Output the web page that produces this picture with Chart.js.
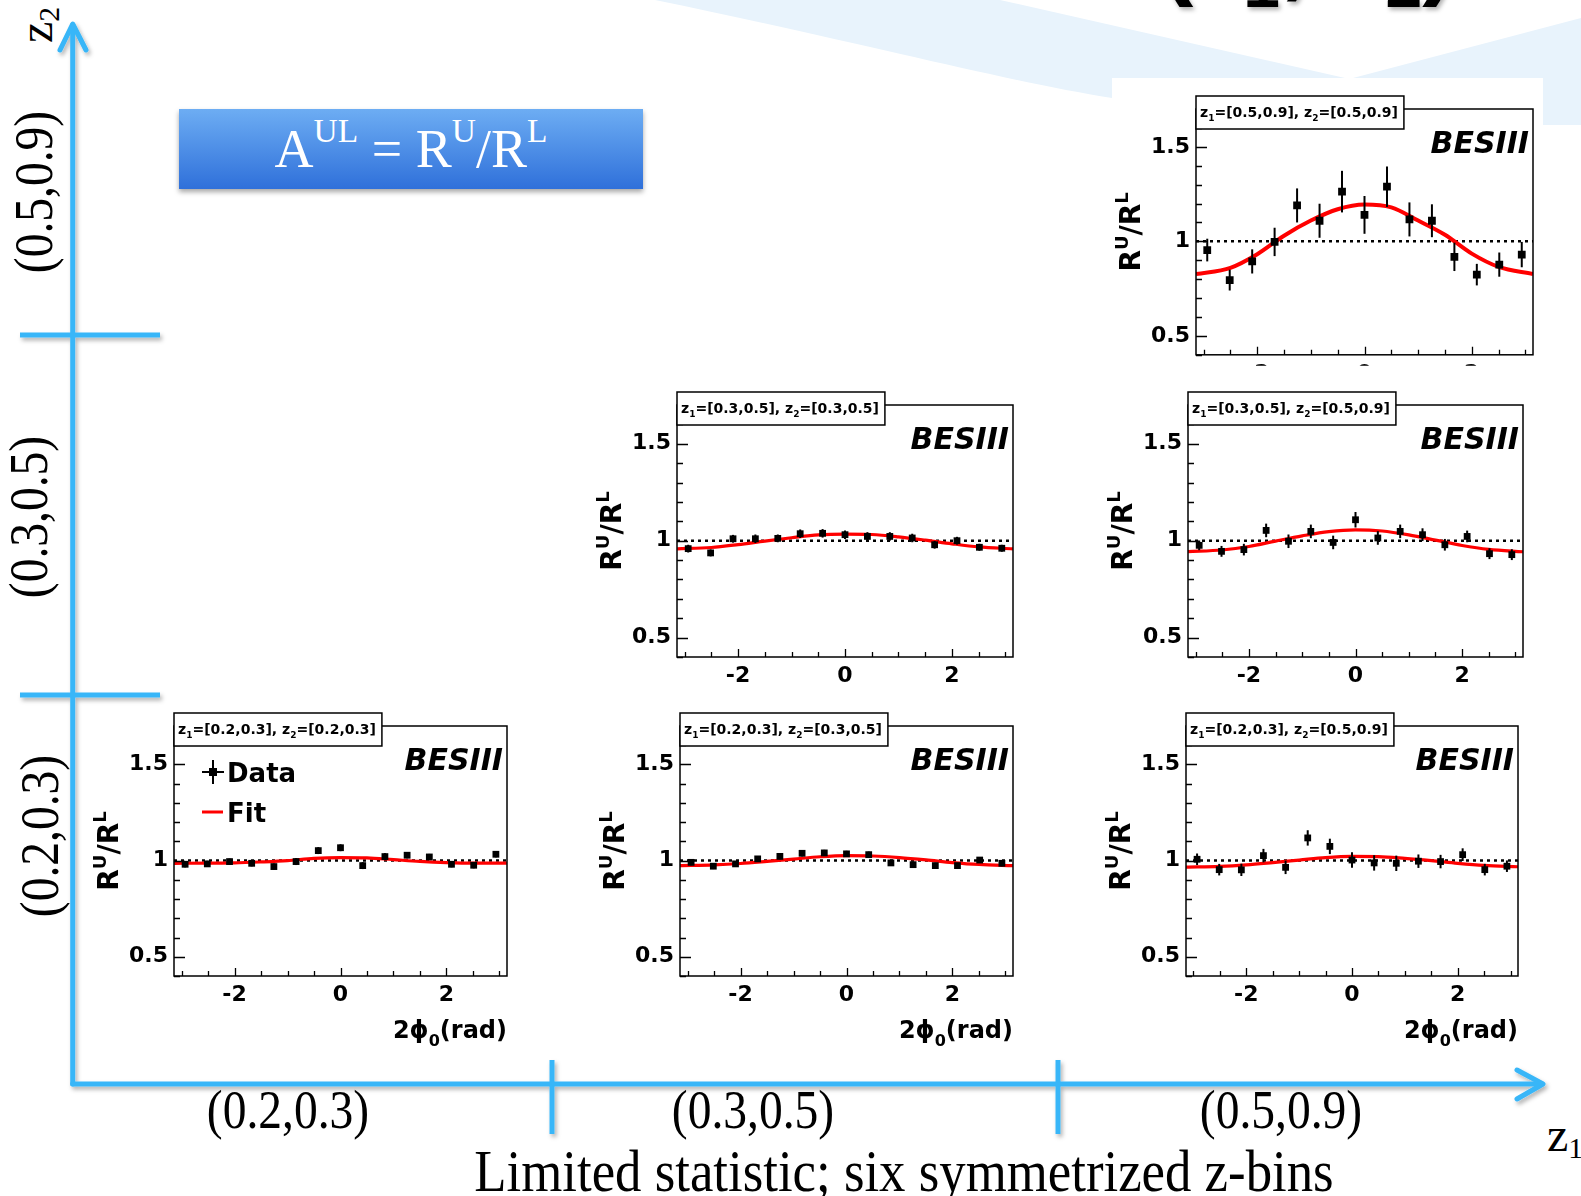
<!DOCTYPE html>
<html>
<head>
<meta charset="utf-8">
<script src="https://cdn.jsdelivr.net/npm/chart.js@4.4.0/dist/chart.umd.min.js"></script>
<style>
html, body { margin: 0; padding: 0; background: #fff; }
body { width: 1581px; height: 1196px; position: relative; overflow: hidden; font-family: "Liberation Serif", "Times New Roman", serif; }
canvas { position: absolute; }
.lbl { position: absolute; font-size: 54px; line-height: 1; white-space: nowrap; color: #000; }
.h { transform: translate(-50%, -50%) scale(0.88, 1); }
.v { transform: translate(-50%, -50%) rotate(-90deg) scale(0.88, 1); }
.sub { font-size: 0.62em; position: relative; top: 0.25em; }
.sup { font-size: 0.62em; position: relative; top: -0.55em; }
#aul { position: absolute; left: 179px; top: 109px; width: 464px; height: 80px;
  background: linear-gradient(#6dadf3, #2f70da); box-shadow: 0 3px 5px rgba(0,0,0,0.35);
  display: flex; align-items: center; justify-content: center; color: #fff; font-size: 54px; }
</style>
</head>
<body>
<svg width="1581" height="1196" style="position:absolute;left:0;top:0">
  <defs>
    <filter id="sh" x="-5%" y="-5%" width="110%" height="110%">
      <feDropShadow dx="2" dy="3" stdDeviation="2" flood-color="#000" flood-opacity="0.3"/>
    </filter>
  </defs>
  <path d="M655,0 L1000,0 L1345,78 L1112,78 L1112,98 C1000,80 850,40 655,0 Z" fill="#e8f3fc"/>
  <polygon points="1353,78 1581,18 1581,125 1543,125 1543,78" fill="#e8f3fc"/>
  <rect x="1112" y="78" width="431" height="295" fill="#fff"/>
  <text x="1160" y="-14" font-family="Liberation Sans" font-weight="bold" font-size="100" filter="url(#sh)">(z<tspan font-size="66" dy="21">1</tspan><tspan dy="-21">, z</tspan><tspan font-size="66" dy="21">2</tspan><tspan dy="-21">)</tspan></text>
  <g stroke="#38b6f8" stroke-width="5" fill="none" stroke-linecap="round" stroke-linejoin="round" filter="url(#sh)">
    <line x1="72.7" y1="1084" x2="72.7" y2="25"/>
    <polyline points="60,50 72.7,24 86,50"/>
    <line x1="72.7" y1="1084" x2="1541" y2="1084"/>
    <polyline points="1517,1070 1543,1084 1517,1099"/>
    <line x1="20" y1="335" x2="160" y2="335" stroke-linecap="butt"/>
    <line x1="20" y1="695" x2="160" y2="695" stroke-linecap="butt"/>
    <line x1="552" y1="1060" x2="552" y2="1134" stroke-linecap="butt"/>
    <line x1="1058" y1="1060" x2="1058" y2="1134" stroke-linecap="butt"/>
  </g>
</svg>

<div id="aul">A<span class="sup">UL</span>&nbsp;=&nbsp;R<span class="sup">U</span>/R<span class="sup">L</span></div>

<div class="lbl v" style="left:36px;top:25px;font-size:48px;transform:translate(-50%,-50%) rotate(-90deg)">z<span class="sub">2</span></div>
<div class="lbl v" style="left:34px;top:192px">(0.5,0.9)</div>
<div class="lbl v" style="left:29px;top:517px">(0.3,0.5)</div>
<div class="lbl v" style="left:40px;top:836px">(0.2,0.3)</div>
<div class="lbl h" style="left:288px;top:1110px">(0.2,0.3)</div>
<div class="lbl h" style="left:753px;top:1110px">(0.3,0.5)</div>
<div class="lbl h" style="left:1281px;top:1110px">(0.5,0.9)</div>
<div class="lbl h" style="left:904px;top:1171px;font-size:60px">Limited statistic; six symmetrized z-bins</div>
<div class="lbl" style="left:1547px;top:1111px;font-size:48px">z<span class="sub">1</span></div>

<canvas id="c55"></canvas>
<canvas id="c33"></canvas>
<canvas id="c35"></canvas>
<canvas id="c22"></canvas>
<canvas id="c23"></canvas>
<canvas id="c25"></canvas>

<script>
// 15 bins in 2phi0 over [-pi, pi]
const binCenters = [-2.932, -2.513, -2.094, -1.676, -1.257, -0.838, -0.419, 0, 0.419, 0.838, 1.257, 1.676, 2.094, 2.513, 2.932];
const fitX = [-3.14, -2.5, -2, -1.5, -1, -0.5, 0, 0.5, 1, 1.5, 2, 2.5, 3.14];
const xTickLabels = [-2, 0, 2];
const yTickLabels = [0.5, 1, 1.5];
const xMinorStep = 0.5;
const yMinorStep = 0.1;
const yMin = 0.4, yMax = 1.7;
const refLevel = 1;

// z1=[0.5,0.9], z2=[0.5,0.9]
const ratio55 = [0.954, 0.795, 0.894, 0.997, 1.19, 1.109, 1.263, 1.14, 1.289, 1.116, 1.109, 0.918, 0.824, 0.877, 0.93];
const err55 = [0.06, 0.055, 0.064, 0.075, 0.09, 0.09, 0.11, 0.1, 0.107, 0.09, 0.087, 0.075, 0.057, 0.064, 0.067];
const fit55 = [0.827, 0.86, 0.932, 1.03, 1.11, 1.17, 1.195, 1.18, 1.11, 1.035, 0.935, 0.865, 0.827];

// z1=[0.3,0.5], z2=[0.3,0.5]
const ratio33 = [0.959, 0.937, 1.01, 1.01, 1.012, 1.036, 1.038, 1.031, 1.022, 1.022, 1.014, 0.979, 1.0, 0.966, 0.961];
const err33 = [0.02, 0.018, 0.02, 0.022, 0.02, 0.022, 0.022, 0.022, 0.022, 0.022, 0.022, 0.02, 0.02, 0.018, 0.018];
const fit33 = [0.958, 0.965, 0.98, 0.998, 1.015, 1.03, 1.034, 1.032, 1.02, 1.003, 0.984, 0.968, 0.958];

// z1=[0.3,0.5], z2=[0.5,0.9]
const ratio35 = [0.976, 0.945, 0.954, 1.053, 0.997, 1.048, 0.991, 1.108, 1.014, 1.048, 1.031, 0.979, 1.022, 0.933, 0.928];
const err35 = [0.025, 0.028, 0.03, 0.035, 0.035, 0.035, 0.035, 0.04, 0.035, 0.035, 0.033, 0.03, 0.03, 0.028, 0.028];
const fit35 = [0.944, 0.952, 0.97, 0.998, 1.025, 1.047, 1.056, 1.05, 1.03, 1.003, 0.975, 0.955, 0.943];

// z1=[0.2,0.3], z2=[0.2,0.3]
const ratio22 = [0.981, 0.983, 0.995, 0.986, 0.969, 0.995, 1.052, 1.067, 0.974, 1.021, 1.028, 1.019, 0.981, 0.976, 1.033];
const err22 = [0.016, 0.016, 0.016, 0.016, 0.016, 0.018, 0.018, 0.018, 0.018, 0.018, 0.016, 0.016, 0.016, 0.016, 0.016];
const fit22 = [0.986, 0.987, 0.988, 0.993, 1.0, 1.012, 1.016, 1.014, 1.005, 0.996, 0.99, 0.987, 0.987];

// z1=[0.2,0.3], z2=[0.3,0.5]
const ratio23 = [0.991, 0.971, 0.983, 1.009, 1.022, 1.038, 1.04, 1.035, 1.031, 0.988, 0.979, 0.974, 0.974, 1.003, 0.986];
const err23 = [0.015, 0.015, 0.015, 0.015, 0.015, 0.016, 0.016, 0.016, 0.016, 0.016, 0.015, 0.015, 0.015, 0.015, 0.015];
const fit23 = [0.974, 0.978, 0.985, 0.996, 1.008, 1.02, 1.026, 1.024, 1.016, 1.004, 0.99, 0.98, 0.974];

// z1=[0.2,0.3], z2=[0.5,0.9]
const ratio25 = [1.007, 0.953, 0.952, 1.026, 0.965, 1.118, 1.074, 1.003, 0.988, 0.986, 0.997, 0.995, 1.031, 0.953, 0.971];
const err25 = [0.03, 0.03, 0.032, 0.035, 0.035, 0.04, 0.04, 0.04, 0.04, 0.04, 0.035, 0.035, 0.033, 0.03, 0.03];
const fit25 = [0.966, 0.97, 0.978, 0.99, 1.003, 1.016, 1.022, 1.021, 1.012, 1.0, 0.986, 0.975, 0.968];

const FONT = '"DejaVu Sans", "Liberation Sans", sans-serif';
const LEFT_M = 100, TOP_M = 20, RIGHT_M = 12;

// frame = plot area in page pixels
const panels = [
    { id: 'c55', z1: '[0.5,0.9]', z2: '[0.5,0.9]', vals: ratio55, errs: err55, fit: fit55, frame: [1196, 109, 1533, 363], bottom: 11, big: true },
    { id: 'c33', z1: '[0.3,0.5]', z2: '[0.3,0.5]', vals: ratio33, errs: err33, fit: fit33, frame: [677, 405, 1013, 657], bottom: 40 },
    { id: 'c35', z1: '[0.3,0.5]', z2: '[0.5,0.9]', vals: ratio35, errs: err35, fit: fit35, frame: [1188, 405, 1523, 657], bottom: 40 },
    { id: 'c22', z1: '[0.2,0.3]', z2: '[0.2,0.3]', vals: ratio22, errs: err22, fit: fit22, frame: [174, 726, 507, 976], bottom: 80, xTitle: true, legend: true },
    { id: 'c23', z1: '[0.2,0.3]', z2: '[0.3,0.5]', vals: ratio23, errs: err23, fit: fit23, frame: [680, 726, 1013, 976], bottom: 80, xTitle: true },
    { id: 'c25', z1: '[0.2,0.3]', z2: '[0.5,0.9]', vals: ratio25, errs: err25, fit: fit25, frame: [1186, 726, 1518, 976], bottom: 80, xTitle: true }
];

// parts: [text, 0 normal | 1 subscript | -1 superscript]
function drawRich(ctx, parts, x, y, size, align, style) {
    style = style || 'bold';
    const sizes = parts.map(p => p[1] ? Math.round(size * 0.65) : size);
    let w = 0;
    parts.forEach((p, i) => { ctx.font = style + ' ' + sizes[i] + 'px ' + FONT; w += ctx.measureText(p[0]).width; });
    let cx = align === 'right' ? x - w : (align === 'center' ? x - w / 2 : x);
    ctx.textAlign = 'left';
    ctx.textBaseline = 'alphabetic';
    parts.forEach((p, i) => {
        ctx.font = style + ' ' + sizes[i] + 'px ' + FONT;
        const dy = p[1] === 1 ? size * 0.32 : (p[1] === -1 ? -size * 0.42 : 0);
        ctx.fillText(p[0], cx, y + dy);
        cx += ctx.measureText(p[0]).width;
    });
    return w;
}

const rootPlugin = {
    id: 'rootStyle',
    beforeDatasetsDraw(chart) {
        const { ctx, chartArea: a, scales } = chart;
        const y1 = scales.y.getPixelForValue(refLevel);
        ctx.save();
        ctx.strokeStyle = '#000';
        ctx.lineWidth = 2.5;
        ctx.setLineDash([3, 4]);
        ctx.beginPath();
        ctx.moveTo(a.left, y1);
        ctx.lineTo(a.right, y1);
        ctx.stroke();
        ctx.restore();
    },
    afterDatasetsDraw(chart) {
        const { ctx, chartArea: a, scales } = chart;
        const p = chart.options.plugins.rootStyle;
        const xs = scales.x, ys = scales.y;
        ctx.save();
        // error bars
        ctx.strokeStyle = '#000';
        ctx.lineWidth = 2;
        p.errs.forEach((e, i) => {
            const px = xs.getPixelForValue(binCenters[i]);
            ctx.beginPath();
            ctx.moveTo(px, ys.getPixelForValue(p.vals[i] - e));
            ctx.lineTo(px, ys.getPixelForValue(p.vals[i] + e));
            ctx.stroke();
        });
        // frame
        ctx.lineWidth = 1.5;
        ctx.strokeRect(a.left, a.top, a.right - a.left, a.bottom - a.top);
        // tick marks (inside the frame, left and bottom)
        ctx.lineWidth = 1.3;
        ctx.beginPath();
        for (let v = yMin; v <= yMax + 1e-9; v += yMinorStep) {
            const major = yTickLabels.some(t => Math.abs(t - v) < 1e-6);
            const py = Math.round(ys.getPixelForValue(v)) + 0.5;
            ctx.moveTo(a.left, py);
            ctx.lineTo(a.left + (major ? 11 : 6), py);
        }
        for (let v = -3; v <= 3 + 1e-9; v += xMinorStep) {
            const major = xTickLabels.some(t => Math.abs(t - v) < 1e-6);
            const px = Math.round(xs.getPixelForValue(v)) + 0.5;
            ctx.moveTo(px, a.bottom);
            ctx.lineTo(px, a.bottom - (major ? 8 : 5));
        }
        ctx.stroke();
        ctx.restore();

        ctx.save();
        ctx.fillStyle = '#000';
        // bin label box
        const parts = [['z', 0], ['1', 1], ['=' + p.z1 + ', z', 0], ['2', 1], ['=' + p.z2, 0]];
        let tw = 0;
        parts.forEach(q => { ctx.font = 'bold ' + (q[1] ? 9 : 14) + 'px ' + FONT; tw += ctx.measureText(q[0]).width; });
        const bx = a.left, by = a.top - 13, bw = tw + 10, bh = 33;
        ctx.fillStyle = '#fff';
        ctx.fillRect(bx, by, bw, bh);
        ctx.strokeStyle = '#000';
        ctx.lineWidth = 1.5;
        ctx.strokeRect(bx, by, bw, bh);
        ctx.fillStyle = '#000';
        drawRich(ctx, parts, bx + 4, by + 21, 14, 'left');
        // BESIII tag
        ctx.font = 'italic bold 30px ' + FONT;
        ctx.textAlign = 'right';
        ctx.textBaseline = 'alphabetic';
        ctx.fillText('BESIII', a.right - 4, a.top + 44);
        // y title
        ctx.save();
        ctx.translate(a.left - 56, (a.top + a.bottom) / 2);
        ctx.rotate(-Math.PI / 2);
        drawRich(ctx, [['R', 0], ['U', -1], ['/R', 0], ['L', -1]], 0, 0, 28, 'center');
        ctx.restore();
        // x title
        if (p.xTitle) {
            drawRich(ctx, [['2\u03D5', 0], ['0', 1], ['(rad)', 0]], a.right, a.bottom + 62, 24, 'right');
        }
        // legend
        if (p.legend) {
            const lx = a.left + 39, ly = a.top + 46;
            ctx.strokeStyle = '#000';
            ctx.lineWidth = 2;
            ctx.beginPath();
            ctx.moveTo(lx, ly - 12); ctx.lineTo(lx, ly + 12);
            ctx.moveTo(lx - 11, ly); ctx.lineTo(lx + 11, ly);
            ctx.stroke();
            ctx.fillRect(lx - 4, ly - 4, 8, 8);
            ctx.font = 'bold 26px ' + FONT;
            ctx.textAlign = 'left';
            ctx.fillText('Data', a.left + 53, a.top + 56);
            ctx.strokeStyle = '#ff0000';
            ctx.lineWidth = 3;
            ctx.beginPath();
            ctx.moveTo(a.left + 28, a.top + 86); ctx.lineTo(a.left + 49, a.top + 86);
            ctx.stroke();
            ctx.fillText('Fit', a.left + 53, a.top + 96);
        }
        ctx.restore();
    }
};

panels.forEach(function (spec) {
    const [L, T, R, B] = spec.frame;
    const cv = document.getElementById(spec.id);
    cv.width = (R - L) + LEFT_M + RIGHT_M;
    cv.height = (B - T) + TOP_M + spec.bottom;
    cv.style.left = (L - LEFT_M) + 'px';
    cv.style.top = (T - TOP_M) + 'px';
    const tickFont = { family: FONT, weight: 'bold', size: 22 };

    new Chart(cv.getContext('2d'), {
        type: 'scatter',
        data: {
            datasets: [
                {
                    label: 'Data',
                    data: binCenters.map((x, i) => ({ x: x, y: spec.vals[i] })),
                    pointStyle: 'rect',
                    pointRadius: spec.big ? 5.5 : 4.8,
                    backgroundColor: '#000',
                    borderColor: '#000',
                    borderWidth: 0
                },
                {
                    label: 'Fit',
                    data: fitX.map((x, i) => ({ x: x, y: spec.fit[i] })),
                    showLine: true,
                    cubicInterpolationMode: 'monotone',
                    borderColor: '#ff0000',
                    borderWidth: spec.big ? 4 : 3.2,
                    pointRadius: 0
                }
            ]
        },
        options: {
            responsive: false,
            animation: false,
            layout: { padding: { top: TOP_M, left: 0, right: RIGHT_M, bottom: 0 } },
            plugins: {
                legend: { display: false },
                tooltip: { enabled: false },
                rootStyle: spec
            },
            scales: {
                x: {
                    type: 'linear',
                    min: -Math.PI,
                    max: Math.PI,
                    afterBuildTicks: s => { s.ticks = xTickLabels.map(v => ({ value: v })); },
                    afterFit: s => { s.height = spec.bottom; },
                    grid: { display: false, drawTicks: false },
                    border: { display: false },
                    ticks: { autoSkip: false, maxRotation: 0, color: '#000', padding: 6, font: tickFont, callback: v => String(v) }
                },
                y: {
                    min: yMin,
                    max: yMax,
                    afterBuildTicks: s => { s.ticks = yTickLabels.map(v => ({ value: v })); },
                    afterFit: s => { s.width = LEFT_M; },
                    grid: { display: false, drawTicks: false },
                    border: { display: false },
                    ticks: { autoSkip: false, color: '#000', padding: 6, font: tickFont, callback: v => String(v) }
                }
            }
        },
        plugins: [rootPlugin]
    });
});
</script>
</body>
</html>
